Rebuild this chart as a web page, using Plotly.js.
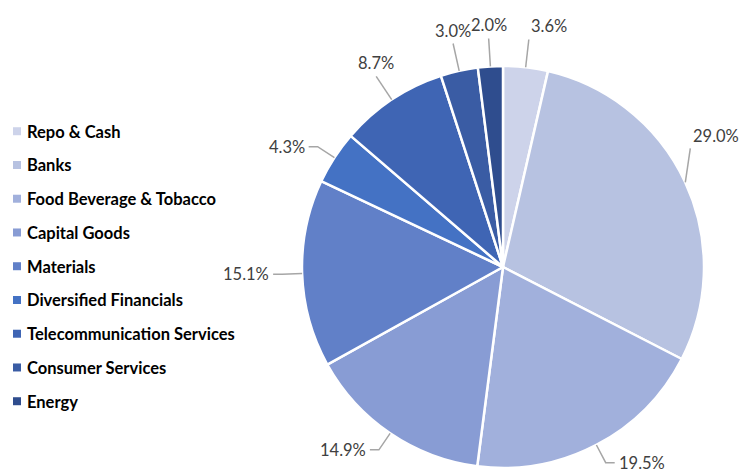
<!DOCTYPE html>
<html><head><meta charset="utf-8">
<script src="https://cdn.plot.ly/plotly-3.0.1.min.js"></script>
<style>html,body{margin:0;padding:0;background:#fff}#chart{width:741px;height:474px}</style>
</head><body><div id="chart"></div>
<script>
const categories = ["Repo & Cash","Banks","Food Beverage & Tobacco","Capital Goods","Materials","Diversified Financials","Telecommunication Services","Consumer Services","Energy"];
const weights = [3.6, 29.0, 19.5, 14.9, 15.1, 4.3, 8.7, 3.0, 2.0];
const colors = ["#cdd3ea","#b7c2e1","#a1b0dc","#889cd4","#6180c8","#4472c4","#3f65b4","#3a5ca4","#2f4d8e"];

const W = 741, H = 474;
const cx = 503, cy = 267, R = 201;
const dom = {x:[(cx-R)/W,(cx+R)/W], y:[1-(cy+R)/H, 1-(cy-R)/H]};

const traces = [{
  type:'pie', labels:categories, values:weights, sort:false, direction:'clockwise', rotation:0,
  marker:{colors:colors, line:{color:'#ffffff', width:2.5}},
  textinfo:'none', hoverinfo:'label+value', showlegend:false, domain:dom
}];
categories.forEach((c,i)=>{
  traces.push({type:'scatter', mode:'markers', x:[null], y:[null], name:c, legendgroup:c,
    marker:{symbol:'square', size:8, color:colors[i]}, hoverinfo:'skip'});
});

const total = weights.reduce((a,b)=>a+b,0);
const px = x => x/W, py = y => 1 - y/H;
const FS = 16.5, TW = 46, TH = 18;
const inside = b => b[0] >= 1 && b[1] <= W-1 && b[2] >= 1 && b[3] <= H-1;
function place(th){
  const s = Math.sin(th), c = Math.cos(th);
  const x1 = cx + R*s, y1 = cy - R*c;
  const pts = [[x1,y1]];
  let xa, ya, tx, ty, box;
  if (c < 0.6) {
    const d = 20;
    const x2 = cx + (R+d)*s, y2 = cy - (R+d)*c;
    const x3 = x2 + (s>0?9:-9);
    pts.push([x2,y2],[x3,y2]);
    tx = x3 + (s>0?2:-2); ty = y2; xa = s>0?'left':'right'; ya='middle';
    box = s>0 ? [tx, tx+TW, ty-TH/2, ty+TH/2] : [tx-TW, tx, ty-TH/2, ty+TH/2];
  } else {
    const d = 28;
    const x2 = cx + (R+d)*s, y2 = cy - (R+d)*c;
    pts.push([x2,y2]);
    tx = x2; ty = y2 - 1; ya = 'bottom';
    if (s > 0.05) { xa='left'; box=[tx, tx+TW, ty-TH, ty]; }
    else { xa='center'; box=[tx-TW/2, tx+TW/2, ty-TH, ty]; }
  }
  return {pts, xa, ya, tx, ty, fits: inside(box)};
}
function placeVertical(th){
  const s = Math.sin(th), c = Math.cos(th);
  const x1 = cx + R*s, y1 = cy - R*c;
  const dir = c >= 0 ? -1 : 1;
  const x2 = x1 + (s>0?5:-5), y2 = y1 + dir*34;
  const tx = x2 + (s>0?1:-1), ty = y2;
  const xa = s>0?'left':'right', ya = dir<0?'bottom':'top';
  const box = [s>0?tx:tx-TW, s>0?tx+TW:tx, dir<0?ty-TH:ty, dir<0?ty:ty+TH];
  return {pts:[[x1,y1],[x2,y2]], xa, ya, tx, ty, fits: inside(box)};
}
const annotations = [], shapes = [];
let cum = 0;
weights.forEach((v,i)=>{
  const th0 = 2*Math.PI*(cum + v/2)/total; cum += v;
  let best = place(th0);
  if (!best.fits) { const alt = placeVertical(th0); if (alt.fits) best = alt; }
  for (let k=1; k<40 && !best.fits; k++) {
    const step = k*Math.PI/180;
    const a = place(th0 - step), b = place(th0 + step);
    if (a.fits) best = a; else if (b.fits) best = b;
    if (best.fits) best.pts[0] = [cx + R*Math.sin(th0), cy - R*Math.cos(th0)];
  }
  const path = best.pts.map((p,j)=>(j?'L':'M')+px(p[0])+','+py(p[1])).join(' ');
  shapes.push({type:'path', xref:'paper', yref:'paper', path:path, line:{color:'#a6a6a6', width:1.5}});
  annotations.push({xref:'paper', yref:'paper', x:px(best.tx), y:py(best.ty), xanchor:best.xa, yanchor:best.ya,
    text:v.toFixed(1)+'%', showarrow:false, font:{family:'Lato, sans-serif', size:FS, color:'#404040'}});
});

const layout = {
  width:W, height:H, margin:{l:0,r:0,t:0,b:0,autoexpand:false}, paper_bgcolor:'#fff', plot_bgcolor:'#fff',
  xaxis:{visible:false, domain:[0,0.01]}, yaxis:{visible:false, domain:[0,0.01]},
  showlegend:true,
  legend:{x:-13/W, y:py(114), xanchor:'left', yanchor:'top', traceorder:'grouped', tracegroupgap:9.3,
    font:{family:'Lato, sans-serif', size:16.5, color:'#000', weight:'bold'}, itemwidth:30, bgcolor:'rgba(0,0,0,0)'},
  shapes:shapes, annotations:annotations
};
Plotly.newPlot('chart', traces, layout, {displayModeBar:false, staticPlot:true}).then(()=>{
  document.querySelectorAll('.legend .legendpoints').forEach(g=>g.setAttribute('transform','translate(10,0)'));
});
</script></body></html>
